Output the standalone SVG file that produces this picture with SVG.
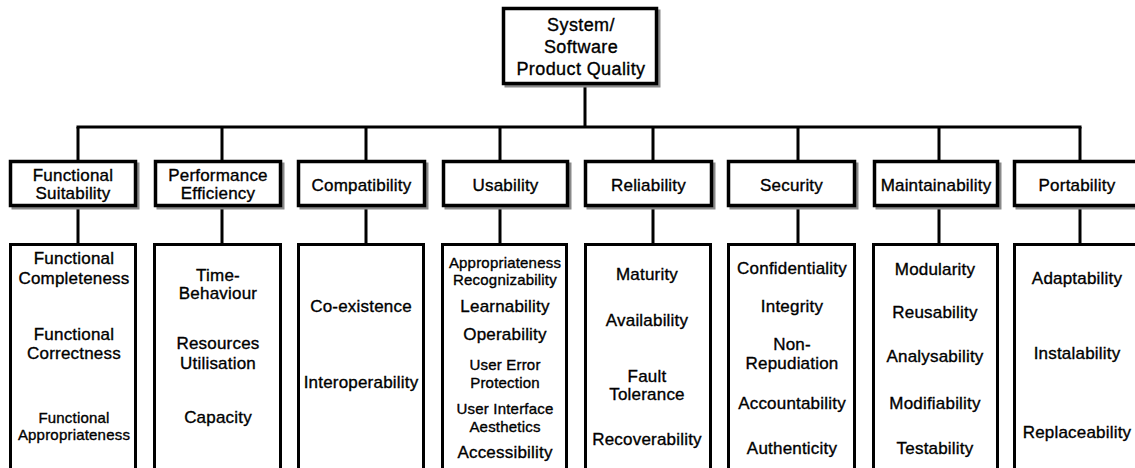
<svg xmlns="http://www.w3.org/2000/svg" width="1135" height="468" viewBox="0 0 1135 468">
<style>
.bg{fill:#fff}
.shadow{fill:none;stroke:#8a8a8a;stroke-width:3}
.box{fill:#fff;stroke:#000;stroke-width:3.5}
.leaf{fill:#fff;stroke:#000;stroke-width:3}
.conn{fill:none;stroke:#000;stroke-width:3}
text{font-family:"Liberation Sans",Arial,Helvetica,sans-serif;fill:#000;stroke:#000;stroke-width:0.35;text-anchor:middle;font-size:17px;letter-spacing:0.2px}
.top{font-size:18px;letter-spacing:0.4px}
.sm{font-size:15px}
</style>
<rect class="bg" x="0" y="0" width="1135" height="468"/>
<g id="connectors">
<path class="conn" d="M585 85V127M76.5 127H1081.5"/>
<path class="conn" d="M78 127V161M222 127V161M366 127V161M500 127V161M653 127V161M798 127V161M939 127V161M1080 127V161"/>
<path class="conn" d="M78 206V244M222 206V244M366 206V244M500 206V244M653 206V244M798 206V244M939 206V244M1080 206V244"/>
</g>
<g id="root">
<rect class="shadow" x="506" y="11" width="153" height="75"/>
<rect class="box" x="503.5" y="8.5" width="153" height="75"/>
<text class="top" x="581" y="31">System/</text>
<text class="top" x="581" y="53">Software</text>
<text class="top" x="581" y="75">Product Quality</text>
</g>
<g id="cat-functional-suitability">
<rect class="shadow" x="13" y="164" width="125" height="44"/>
<rect class="box" x="10.5" y="161.5" width="125" height="44"/>
<text x="73" y="181">Functional</text>
<text x="73" y="199">Suitability</text>
</g>
<g id="cat-performance-efficiency">
<rect class="shadow" x="158" y="164" width="125" height="44"/>
<rect class="box" x="155.5" y="161.5" width="125" height="44"/>
<text x="218" y="181">Performance</text>
<text x="218" y="199">Efficiency</text>
</g>
<g id="cat-compatibility">
<rect class="shadow" x="301" y="164" width="126" height="44"/>
<rect class="box" x="298.5" y="161.5" width="126" height="44"/>
<text x="361.5" y="191">Compatibility</text>
</g>
<g id="cat-usability">
<rect class="shadow" x="446" y="164" width="124" height="44"/>
<rect class="box" x="443.5" y="161.5" width="124" height="44"/>
<text x="505.5" y="191">Usability</text>
</g>
<g id="cat-reliability">
<rect class="shadow" x="588" y="164" width="126" height="44"/>
<rect class="box" x="585.5" y="161.5" width="126" height="44"/>
<text x="648.5" y="191">Reliability</text>
</g>
<g id="cat-security">
<rect class="shadow" x="731" y="164" width="126" height="44"/>
<rect class="box" x="728.5" y="161.5" width="126" height="44"/>
<text x="791.5" y="191">Security</text>
</g>
<g id="cat-maintainability">
<rect class="shadow" x="877" y="164" width="123" height="44"/>
<rect class="box" x="874.5" y="161.5" width="123" height="44"/>
<text x="936" y="191">Maintainability</text>
</g>
<g id="cat-portability">
<rect class="shadow" x="1017" y="164" width="127" height="44"/>
<rect class="box" x="1014.5" y="161.5" width="127" height="44"/>
<text x="1077" y="191">Portability</text>
</g>
<g id="sub-functional-suitability">
<rect class="leaf" x="10.5" y="244.5" width="125" height="240"/>
<text x="74" y="264">Functional</text>
<text x="74" y="284">Completeness</text>
<text x="74" y="340">Functional</text>
<text x="74" y="359">Correctness</text>
<text class="sm" x="74" y="422.5">Functional</text>
<text class="sm" x="74" y="439.5">Appropriateness</text>
</g>
<g id="sub-performance-efficiency">
<rect class="leaf" x="154.5" y="244.5" width="126" height="240"/>
<text x="218" y="281">Time-</text>
<text x="218" y="299">Behaviour</text>
<text x="218" y="349">Resources</text>
<text x="218" y="369">Utilisation</text>
<text x="218" y="423">Capacity</text>
</g>
<g id="sub-compatibility">
<rect class="leaf" x="298.5" y="244.5" width="125" height="240"/>
<text x="361" y="312">Co-existence</text>
<text x="361" y="388">Interoperability</text>
</g>
<g id="sub-usability">
<rect class="leaf" x="442.5" y="244.5" width="124" height="240"/>
<text class="sm" x="505" y="267.5">Appropriateness</text>
<text class="sm" x="505" y="284.5">Recognizability</text>
<text x="505" y="312">Learnability</text>
<text x="505" y="340">Operability</text>
<text class="sm" x="505" y="369.5">User Error</text>
<text class="sm" x="505" y="387.5">Protection</text>
<text class="sm" x="505" y="413.5">User Interface</text>
<text class="sm" x="505" y="431.5">Aesthetics</text>
<text x="505" y="458">Accessibility</text>
</g>
<g id="sub-reliability">
<rect class="leaf" x="585.5" y="244.5" width="125" height="240"/>
<text x="647" y="280">Maturity</text>
<text x="647" y="326">Availability</text>
<text x="647" y="382">Fault</text>
<text x="647" y="400">Tolerance</text>
<text x="647" y="445">Recoverability</text>
</g>
<g id="sub-security">
<rect class="leaf" x="728.5" y="244.5" width="126" height="240"/>
<text x="792" y="274">Confidentiality</text>
<text x="792" y="312">Integrity</text>
<text x="792" y="350">Non-</text>
<text x="792" y="369">Repudiation</text>
<text x="792" y="409">Accountability</text>
<text x="792" y="454">Authenticity</text>
</g>
<g id="sub-maintainability">
<rect class="leaf" x="873.5" y="244.5" width="124" height="240"/>
<text x="935" y="275">Modularity</text>
<text x="935" y="318">Reusability</text>
<text x="935" y="362">Analysability</text>
<text x="935" y="409">Modifiability</text>
<text x="935" y="454">Testability</text>
</g>
<g id="sub-portability">
<rect class="leaf" x="1014.5" y="244.5" width="127" height="240"/>
<text x="1077" y="284">Adaptability</text>
<text x="1077" y="359">Instalability</text>
<text x="1077" y="438">Replaceability</text>
</g>
</svg>
